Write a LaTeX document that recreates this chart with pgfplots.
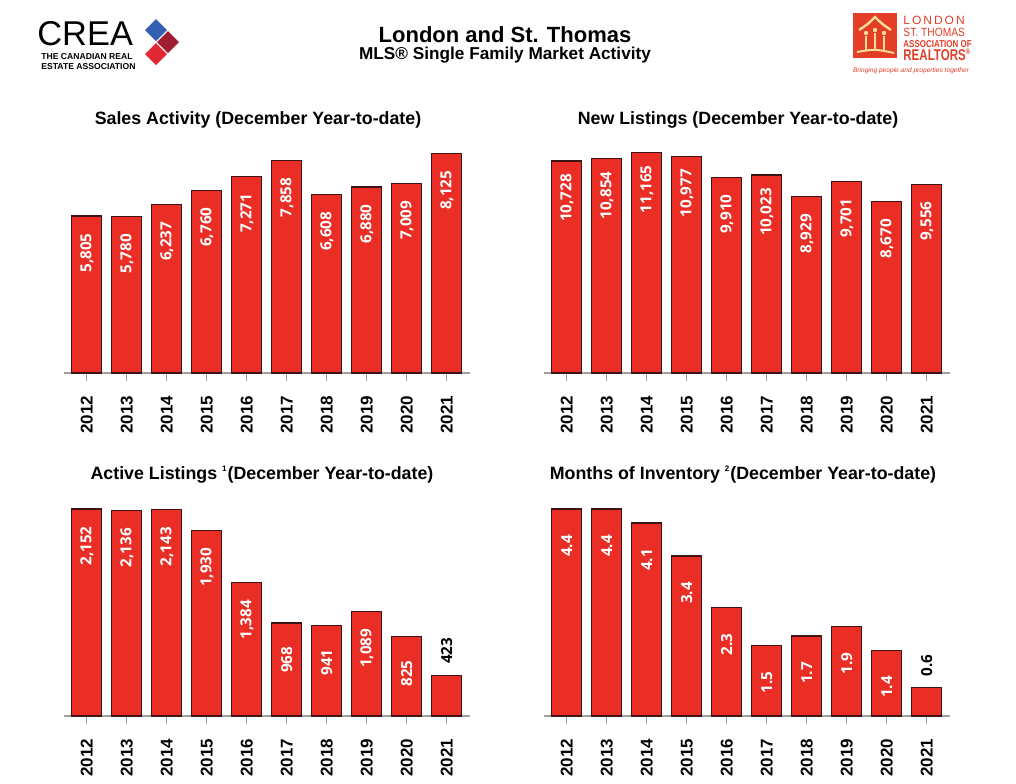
\documentclass[border=0pt]{standalone}
\usepackage{fontspec}
\setmainfont{Liberation Sans}
\newfontfamily\lblfont{Open Sans}
\usepackage{graphicx}
\usepackage{pgfplots}
\usepackage{pgfplotstable}
\pgfplotsset{compat=1.18}

\definecolor{barred}{RGB}{234,46,38}
\definecolor{baredge}{RGB}{60,20,20}
\definecolor{axgray}{RGB}{160,160,160}
\definecolor{creablue}{RGB}{52,96,178}
\definecolor{creared}{RGB}{226,40,50}
\definecolor{creadark}{RGB}{160,30,50}
\definecolor{lstred}{RGB}{226,62,40}
\definecolor{lstyel}{RGB}{250,220,150}

% x y inside-label outside-label
\pgfplotstableread{
x y in out
0 5805 5,805 {}
1 5780 5,780 {}
2 6237 6,237 {}
3 6760 6,760 {}
4 7271 7,271 {}
5 7858 7,858 {}
6 6608 6,608 {}
7 6880 6,880 {}
8 7009 7,009 {}
9 8125 8,125 {}
}\tabsales
\pgfplotstableread{
x y in out
0 10728 10,728 {}
1 10854 10,854 {}
2 11165 11,165 {}
3 10977 10,977 {}
4 9910 9,910 {}
5 10023 10,023 {}
6 8929 8,929 {}
7 9701 9,701 {}
8 8670 8,670 {}
9 9556 9,556 {}
}\tabnewlist
\pgfplotstableread{
x y in out
0 2152 2,152 {}
1 2136 2,136 {}
2 2143 2,143 {}
3 1930 1,930 {}
4 1384 1,384 {}
5 968 968 {}
6 941 941 {}
7 1089 1,089 {}
8 825 825 {}
9 423 {} 423
}\tabactive
\pgfplotstableread{
x y in out
0 4.4 4.4 {}
1 4.4 4.4 {}
2 4.1 4.1 {}
3 3.4 3.4 {}
4 2.3 2.3 {}
5 1.5 1.5 {}
6 1.7 1.7 {}
7 1.9 1.9 {}
8 1.4 1.4 {}
9 0.6 {} 0.6
}\tabmonths

\pgfplotsset{
  barchart/.style={
    scale only axis, width=203pt, height=115pt,
    xmin=-0.57, xmax=9.58, ymin=0,
    axis x line*=bottom, axis y line=none,
    axis line style={axgray, line width=1pt},
    xtick={0,...,9},
    xticklabels={2012,2013,2014,2015,2016,2017,2018,2019,2020,2021},
    tick align=outside, major tick length=4pt,
    tick style={axgray, line width=0.6pt},
    xticklabel shift=4pt,
    xticklabel style={rotate=90, anchor=east, font=\fontsize{8.5}{10}\selectfont\bfseries},
    clip=false,
  },
  bars/.style={ybar, bar width=15pt, bar shift=0pt, fill=barred, draw=baredge, line width=0.6pt},
  inlabels/.style={draw=none, mark=none, nodes near coords, point meta=explicit symbolic,
    every node near coord/.style={yshift=-18.5pt, rotate=90, anchor=center, text=white,
      font=\lblfont\fontsize{7.6}{9}\selectfont\bfseries}},
  outlabels/.style={draw=none, mark=none, nodes near coords, point meta=explicit symbolic,
    every node near coord/.style={yshift=5.5pt, rotate=90, anchor=west, inner sep=0pt, text=black,
      font=\lblfont\fontsize{7.6}{9}\selectfont\bfseries}},
}

\newcommand\ttl{\fontsize{8.9}{10}\selectfont\bfseries}

\begin{document}
\begin{tikzpicture}
\useasboundingbox (0,0) rectangle (508pt,-391.5pt);

\begin{scope}[x=0.5pt,y=-0.5pt]
% header
\node[anchor=base, font=\fontsize{11}{12}\selectfont\bfseries] at (505,42) {London and St. Thomas};
\node[anchor=base, font=\fontsize{8.6}{9}\selectfont\bfseries] at (505,59) {MLS® Single Family Market Activity};

% CREA logo
\node[anchor=base west, inner sep=0pt, font=\fontsize{17.2}{18}\selectfont] at (37,45) {CREA};
\node[anchor=base west, inner sep=0pt, font=\fontsize{4.3}{5}\selectfont\bfseries] at (41,59) {THE CANADIAN REAL};
\node[anchor=base west, inner sep=0pt, font=\fontsize{4.3}{5}\selectfont\bfseries] at (41,69) {ESTATE ASSOCIATION};
\fill[creablue] (145,30) -- (156,19) -- (167,30) -- (156,41) -- cycle;
\fill[creared] (145,54) -- (156,43) -- (167,54) -- (156,65) -- cycle;
\fill[creadark] (157,42) -- (168,31) -- (179,42) -- (168,53) -- cycle;

% London St. Thomas logo
\fill[lstred] (853,13) rectangle (897,58);
\draw[lstyel, line width=1.2pt] (859,30) .. controls (868,24) .. (875,17) .. controls (882,24) .. (891,30);
\draw[lstyel, line width=1.2pt] (866,36) -- (866,50) (875,33) -- (875,50) (884,36) -- (884,50);
\fill[lstyel] (866,33) circle (2.2) (875,30) circle (2.2) (884,33) circle (2.2);
\draw[lstyel, line width=1pt] (857,52) .. controls (875,49) .. (894,53);
\node[anchor=base west, inner sep=0pt, text=lstred, font=\fontsize{6}{7}\selectfont] at (903,24) {L\,O\,N\,D\,O\,N};
\node[anchor=base west, inner sep=0pt, text=lstred, font=\fontsize{5.4}{7}\selectfont] at (903,36) {\scalebox{0.95}[1.1]{ST. THOMAS}};
\node[anchor=base west, inner sep=0pt, text=lstred, font=\fontsize{5}{6}\selectfont\bfseries] at (903,47) {\scalebox{0.8}[1]{ASSOCIATION OF}};
\node[anchor=base west, inner sep=0pt, text=lstred, font=\fontsize{7.8}{8}\selectfont\bfseries] at (903,60) {\scalebox{0.74}[1]{REALTORS\textsuperscript{\fontsize{4}{4}\selectfont®}}};
\node[anchor=base, inner sep=0pt, text=lstred, font=\fontsize{3.3}{4}\selectfont\itshape] at (911,72) {Bringing people and properties together};

% chart titles
\node[anchor=base, font=\ttl] at (258,124) {Sales Activity (December Year-to-date)};
\node[anchor=base, font=\ttl] at (738,124) {New Listings (December Year-to-date)};
\node[anchor=base, font=\ttl] at (262,479) {Active Listings \textsuperscript{\fontsize{4}{4}\selectfont 1}(December Year-to-date)};
\node[anchor=base, font=\ttl] at (743,479) {Months of Inventory \textsuperscript{\fontsize{4}{4}\selectfont 2}(December Year-to-date)};
\end{scope}

% Sales
\begin{axis}[barchart, at={(32pt,-186.5pt)}, anchor=south west, ymax=8503]
\addplot[bars] table[x=x, y=y] {\tabsales};
\addplot[inlabels] table[x=x, y=y, meta=in] {\tabsales};
\end{axis}

% New listings
\begin{axis}[barchart, at={(272pt,-186.5pt)}, anchor=south west, ymax=11640]
\addplot[bars] table[x=x, y=y] {\tabnewlist};
\addplot[inlabels] table[x=x, y=y, meta=in] {\tabnewlist};
\end{axis}

% Active listings
\begin{axis}[barchart, at={(32pt,-358pt)}, anchor=south west, ymax=2391]
\addplot[bars] table[x=x, y=y] {\tabactive};
\addplot[inlabels] table[x=x, y=y, meta=in] {\tabactive};
\addplot[outlabels] table[x=x, y=y, meta=out] {\tabactive};
\end{axis}

% Months of inventory
\begin{axis}[barchart, at={(272pt,-358pt)}, anchor=south west, ymax=4.888]
\addplot[bars] table[x=x, y=y] {\tabmonths};
\addplot[inlabels] table[x=x, y=y, meta=in] {\tabmonths};
\addplot[outlabels] table[x=x, y=y, meta=out] {\tabmonths};
\end{axis}
\end{tikzpicture}
\end{document}
